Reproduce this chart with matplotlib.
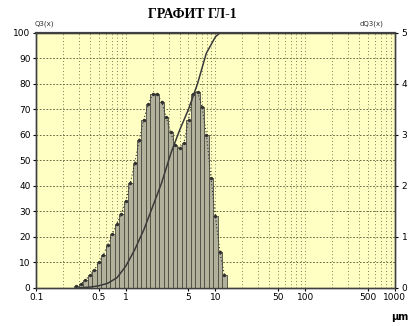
import matplotlib
matplotlib.use("Agg")
import matplotlib.pyplot as plt
import numpy as np

# particle size bins (um), edges
bin_edges = [0.266, 0.298, 0.335, 0.376, 0.422, 0.473, 0.531, 0.596, 0.668, 0.750,
             0.841, 0.944, 1.059, 1.189, 1.334, 1.496, 1.679, 1.884, 2.113, 2.371,
             2.661, 2.985, 3.350, 3.758, 4.217, 4.732, 5.309, 5.957, 6.683, 7.499,
             8.414, 9.441, 10.59, 11.89, 13.34]
# density dQ3(x) per bin
dq3 = [0.03, 0.08, 0.15, 0.25, 0.35, 0.5, 0.65, 0.85, 1.05, 1.25,
       1.45, 1.7, 2.05, 2.45, 2.9, 3.3, 3.6, 3.8, 3.8, 3.65,
       3.35, 3.05, 2.8, 2.75, 2.85, 3.3, 3.8, 3.85, 3.55, 3.0,
       2.15, 1.4, 0.7, 0.25]

# cumulative Q3(x), %
q3_x = [0.3, 0.4, 0.5, 0.63, 0.8, 1.0, 1.26, 1.6, 2.0, 2.5, 3.2, 4.0, 5.0, 6.3, 7.9, 10, 11.2, 1000]
q3_y = [0, 0.3, 0.8, 1.8, 4, 8.5, 15, 23, 32, 41, 53, 62, 70, 80, 92, 98.5, 100, 100]

x_ticks = [0.1, 0.5, 1, 5, 10, 50, 100, 500, 1000]
x_labels = ["0.1", "0.5", "1", "5", "10", "50", "100", "500", "1000"]

fig = plt.figure(figsize=(4.1, 3.26), dpi=100)
ax = fig.add_axes([0.088, 0.117, 0.875, 0.782])
ax.set_facecolor("#ffffc4")
ax.set_xscale("log")
ax.set_xlim(0.1, 1000)
ax.set_ylim(0, 100)

# grid
ax.set_yticks(range(0, 101, 10))
ax.grid(True, which="major", axis="y", color="#505030", linestyle=(0, (2, 2)), linewidth=0.6)
ax.grid(True, which="both", axis="x", color="#505030", linestyle=(0, (1, 3)), linewidth=0.6)

ax2 = ax.twinx()
ax2.set_ylim(0, 5)
ax2.set_xscale("log")
ax2.set_xlim(0.1, 1000)

edges = np.array(bin_edges)
widths = edges[1:] - edges[:-1]
ax2.bar(edges[:-1], dq3, width=widths, align="edge", color="#b2b29c",
        edgecolor="#4a4a40", linewidth=0.6)
centers = np.sqrt(edges[1:] * edges[:-1])
ax2.plot(centers, dq3, color="#303030", linestyle=(0, (1, 2)), linewidth=0.8,
         marker="o", markersize=1.4)

# cumulative curve drawn on the top axes, converted to its scale (100 % -> 5)
ax2.plot(q3_x, np.array(q3_y) / 20.0, color="#3a3a3a", linewidth=1.1, clip_on=False)

ax.set_xticks(x_ticks)
ax.set_xticklabels(x_labels)
ax.xaxis.set_minor_formatter(matplotlib.ticker.NullFormatter())
ax.tick_params(axis="both", labelsize=6.5, length=2, width=0.8, pad=2)
ax.tick_params(axis="x", which="minor", length=0)
ax2.set_yticks(range(0, 6))
ax2.tick_params(axis="y", labelsize=6.5, length=2, width=0.8, pad=3)

for a in (ax, ax2):
    for s in a.spines.values():
        s.set_color("#404040")
        s.set_linewidth(1.0)
ax2.spines["top"].set_linewidth(1.6)

fig.text(0.47, 0.955, "ГРАФИТ ГЛ-1", ha="center", va="center", fontsize=10,
         fontweight="bold", family="Liberation Serif")
fig.text(0.085, 0.918, "Q3(x)", ha="left", va="bottom", fontsize=5, color="#303030")
fig.text(0.935, 0.918, "dQ3(x)", ha="right", va="bottom", fontsize=5, color="#303030")
fig.text(0.997, 0.012, "µm", ha="right", va="bottom", fontsize=7, fontweight="bold")

fig.savefig("out.png", dpi=100)
